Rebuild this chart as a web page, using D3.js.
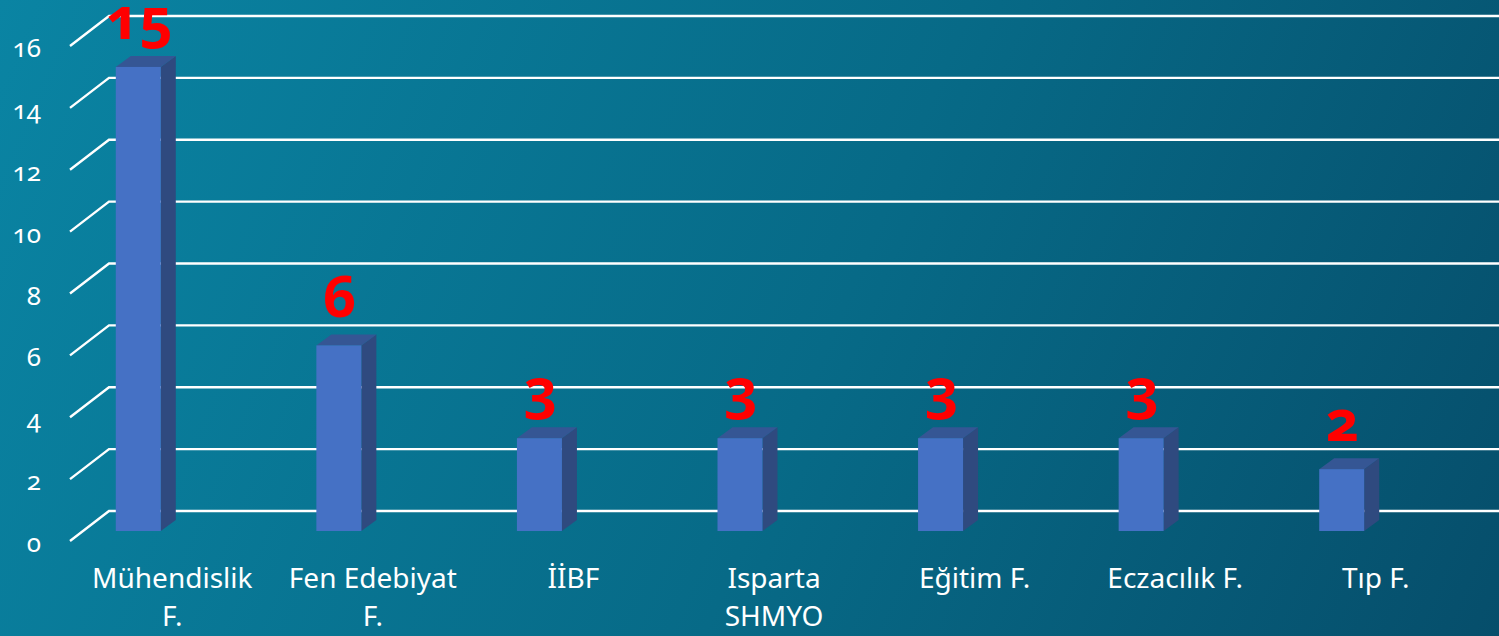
<!DOCTYPE html>
<html>
<head>
<meta charset="utf-8">
<script src="https://cdn.jsdelivr.net/npm/d3@7/dist/d3.min.js"></script>
<style>
  html, body { margin: 0; padding: 0; overflow: hidden; }
  svg { display: block; }
  .num { font-variant-numeric: oldstyle-nums; font-feature-settings: "onum" 1; }
</style>
</head>
<body>
<svg id="chart" width="1499" height="636"></svg>
<script>
const categories = ["Mühendislik F.", "Fen Edebiyat F.", "İİBF", "Isparta SHMYO", "Eğitim F.", "Eczacılık F.", "Tıp F."];
const values = [15, 6, 3, 3, 3, 3, 2];
const yTicks = [0, 2, 4, 6, 8, 10, 12, 14, 16];

const W = 1499, H = 636;
const svg = d3.select("#chart");

const defs = svg.append("defs");
const grad = defs.append("linearGradient").attr("id", "bg")
  .attr("gradientUnits", "userSpaceOnUse")
  .attr("x1", 0).attr("y1", 0).attr("x2", W).attr("y2", H);
grad.append("stop").attr("offset", "0%").attr("stop-color", "#0a84a3");
grad.append("stop").attr("offset", "55%").attr("stop-color", "#076a87");
grad.append("stop").attr("offset", "100%").attr("stop-color", "#064e6b");
svg.append("rect").attr("width", W).attr("height", H).attr("fill", "url(#bg)");

// scales
const y = d3.scaleLinear().domain([0, 16]).range([511, 16]);      // back wall
const yF = d3.scaleLinear().domain([0, 16]).range([531, 36]);     // front faces
const x = d3.scaleBand().domain(categories).range([38, 1442]).padding(0);
const depthX = 15, depthY = -11, barW = 45;
const wallX0 = 70, wallX1 = 109, wallDY = 30;

// gridlines with perspective wall segment
const grid = svg.append("g");
yTicks.forEach(t => {
  const gy = y(t);
  grid.append("path")
    .attr("d", `M${wallX0},${gy + wallDY}L${wallX1},${gy}L${W},${gy}`)
    .attr("fill", "none").attr("stroke", "#ffffff").attr("stroke-width", 2.4);
});

// y tick labels
const yAxis = svg.append("g");
yTicks.forEach(t => {
  yAxis.append("text").attr("class", "num")
    .attr("x", 41).attr("y", y(t) + wallDY + 1)
    .attr("text-anchor", "end").attr("dominant-baseline", "central")
    .attr("font-family", "'Noto Sans', 'Open Sans', sans-serif")
    .attr("font-size", 26).attr("fill", "#ffffff")
    .text(t);
});

// bars
const bars = svg.append("g");
categories.forEach((c, i) => {
  const v = values[i];
  const cx = x(c) + x.bandwidth() / 2;
  const x0 = cx - barW / 2, x1 = cx + barW / 2;
  const yt = yF(v), yb = yF(0);
  bars.append("path")
    .attr("d", `M${x1},${yt}L${x1 + depthX},${yt + depthY}L${x1 + depthX},${yb + depthY}L${x1},${yb}Z`)
    .attr("fill", "#2f4a7f");
  bars.append("path")
    .attr("d", `M${x0},${yt}L${x0 + depthX},${yt + depthY}L${x1 + depthX},${yt + depthY}L${x1},${yt}Z`)
    .attr("fill", "#355694");
  bars.append("rect")
    .attr("x", x0).attr("y", yt).attr("width", barW).attr("height", yb - yt)
    .attr("fill", "#4571c5");
});

// value labels
const vl = svg.append("g");
categories.forEach((c, i) => {
  const cx = x(c) + x.bandwidth() / 2;
  vl.append("text").attr("class", "num")
    .attr("x", cx + 1).attr("y", yF(values[i]) - 28)
    .attr("text-anchor", "middle")
    .attr("font-family", "'Noto Sans', 'Open Sans', sans-serif")
    .attr("font-weight", "bold").attr("font-size", 58)
    .attr("fill", "#ff0000")
    .text(values[i]);
});

// category labels with wrapping
const xl = svg.append("g");
const maxW = 175;
categories.forEach(c => {
  const cx = x(c) + x.bandwidth() / 2 + 34;
  const t = xl.append("text")
    .attr("text-anchor", "middle")
    .attr("font-family", "'Noto Sans', 'Open Sans', sans-serif")
    .attr("font-size", 28).attr("fill", "#ffffff");
  const words = c.split(" ");
  let lines = [], cur = [];
  const probe = t.append("tspan");
  words.forEach(w => {
    const test = cur.concat([w]).join(" ");
    probe.text(test);
    if (probe.node().getComputedTextLength() > maxW && cur.length) {
      lines.push(cur.join(" "));
      cur = [w];
    } else cur.push(w);
  });
  lines.push(cur.join(" "));
  probe.remove();
  lines.forEach((ln, k) => {
    t.append("tspan").attr("x", cx).attr("y", 588 + k * 38).text(ln);
  });
});
</script>
</body>
</html>
